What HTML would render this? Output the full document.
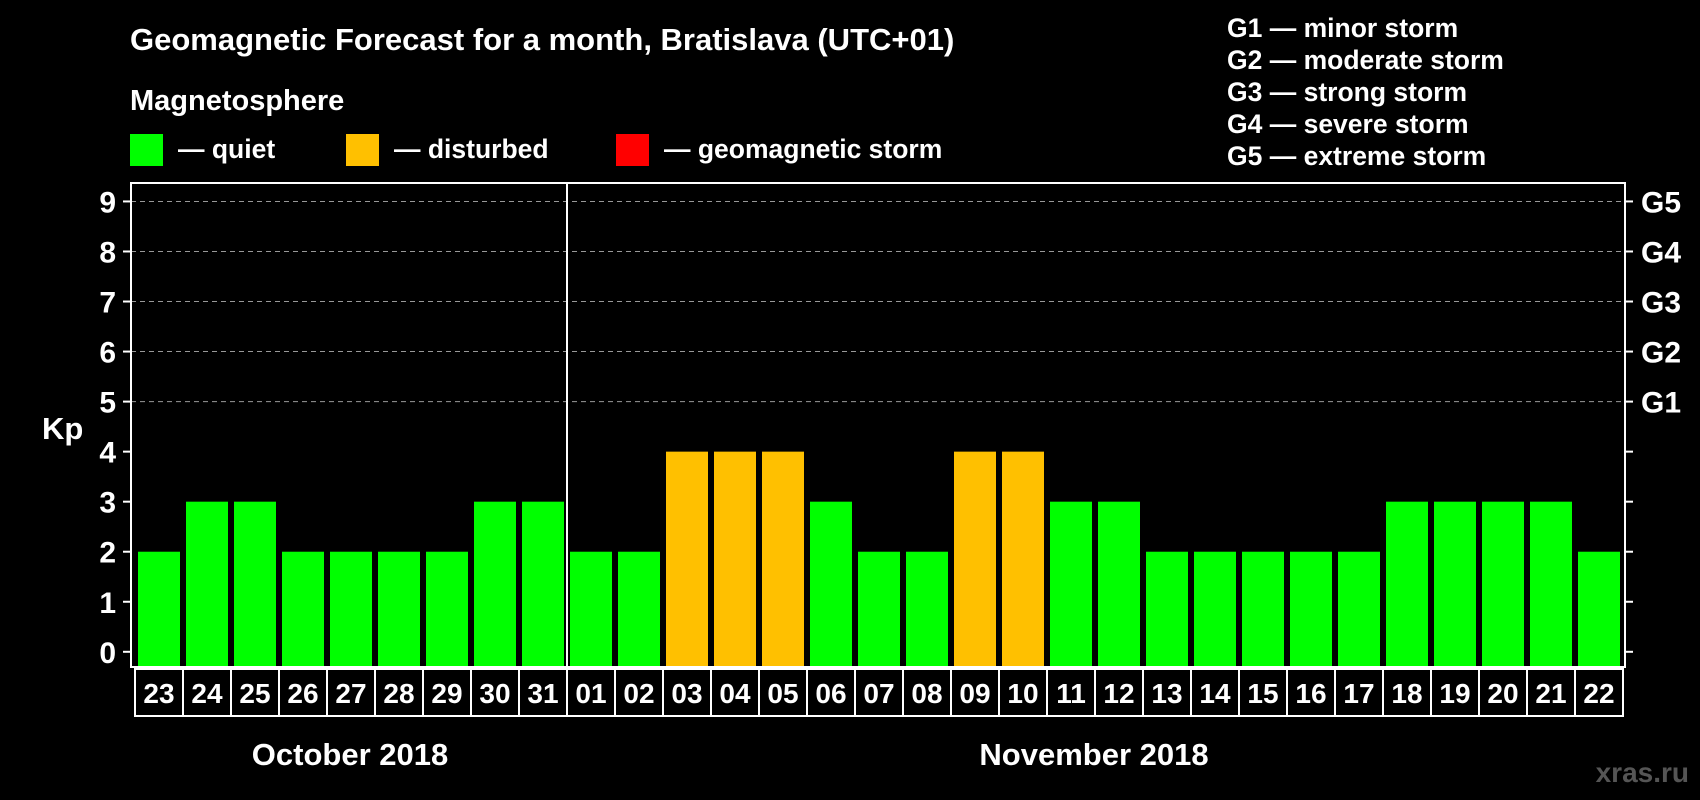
<!DOCTYPE html>
<html><head><meta charset="utf-8"><style>
html,body{margin:0;padding:0;background:#000;}
svg{display:block;font-family:"Liberation Sans",Arial,sans-serif;font-weight:bold;}
</style></head><body>
<svg id="chart" width="1700" height="800" viewBox="0 0 1700 800">
<text x="130" y="50" fill="#fff" font-size="31">Geomagnetic Forecast for a month, Bratislava (UTC+01)</text>
<text x="130" y="110" fill="#fff" font-size="29">Magnetosphere</text>
<g><rect x="130" y="134" width="33" height="32" fill="#00ff00"/><text x="178" y="158" fill="#fff" font-size="26.5">— quiet</text></g>
<g><rect x="346" y="134" width="33" height="32" fill="#ffc000"/><text x="394" y="158" fill="#fff" font-size="26.5">— disturbed</text></g>
<g><rect x="616" y="134" width="33" height="32" fill="#ff0000"/><text x="664" y="158" fill="#fff" font-size="26.5">— geomagnetic storm</text></g>
<g font-size="26.5" fill="#fff">
<text x="1227" y="37">G1 — minor storm</text>
<text x="1227" y="69">G2 — moderate storm</text>
<text x="1227" y="101">G3 — strong storm</text>
<text x="1227" y="133">G4 — severe storm</text>
<text x="1227" y="165">G5 — extreme storm</text>
</g>
<text x="42" y="439" fill="#fff" font-size="31">Kp</text>
<g id="plot"></g>
<text x="350" y="765" fill="#fff" font-size="31" text-anchor="middle">October 2018</text>
<text x="1094" y="765" fill="#fff" font-size="31" text-anchor="middle">November 2018</text>
<text x="1689" y="782" fill="#555" font-size="28" text-anchor="end">xras.ru</text>
</svg>
<script>
const days=["23","24","25","26","27","28","29","30","31","01","02","03","04","05","06","07","08","09","10","11","12","13","14","15","16","17","18","19","20","21","22"];
const kp=[2,3,3,2,2,2,2,3,3,2,2,4,4,4,3,2,2,4,4,3,3,2,2,2,2,2,3,3,3,3,2];
const yTicks=[0,1,2,3,4,5,6,7,8,9];
const gLabels=["G1","G2","G3","G4","G5"];
const NS="http://www.w3.org/2000/svg";
const g=document.getElementById('plot');
const L=131,R=1625,T=183,B=667;
const y=v=>651.8-v*50.04;
const x0=135,step=48;
const x=i=>x0+i*step;
function mk(t,a){const e=document.createElementNS(NS,t);for(const k in a)e.setAttribute(k,a[k]);g.appendChild(e);return e;}
yTicks.forEach(v=>{
 if(v>=5){const l=mk('line',{x1:L,x2:R,y1:y(v),y2:y(v),stroke:'#999','stroke-dasharray':'5,4','stroke-width':1});
 
 }
 const t1=mk('line',{x1:L-8,x2:L,y1:y(v),y2:y(v),stroke:'#fff','stroke-width':2});
 
 
 const t2=mk('line',{x1:R,x2:R+8,y1:y(v),y2:y(v),stroke:'#fff','stroke-width':2});
 
 
 const tx=mk('text',{x:L-15,y:y(v)+11,fill:'#fff','font-size':30,'text-anchor':'end'});tx.textContent=v;
 
 
});
gLabels.forEach((s,i)=>{const t=mk('text',{x:R+16,y:y(i+5)+11,fill:'#fff','font-size':30});t.textContent=s;
 
 });
kp.forEach((v,i)=>{
 const c=v>=5?'#ff0000':(v>=4?'#ffc000':'#00ff00');
 const b=mk('rect',{x:x(i)+3,y:y(v),width:42,height:B-y(v),fill:c});
 
 
 const bx=mk('rect',{x:x(i),y:669,width:step,height:47,fill:'none',stroke:'#fff','stroke-width':2});
 
 
 const t=mk('text',{x:x(i)+step/2,y:703,fill:'#fff','font-size':28,'text-anchor':'middle'});t.textContent=days[i];
 
 
});
const fr=mk('rect',{x:L,y:T,width:R-L,height:B-T,fill:'none',stroke:'#fff','stroke-width':2});


const sep=mk('line',{x1:567,x2:567,y1:T,y2:B,stroke:'#fff','stroke-width':2});


</script>
</body></html>
